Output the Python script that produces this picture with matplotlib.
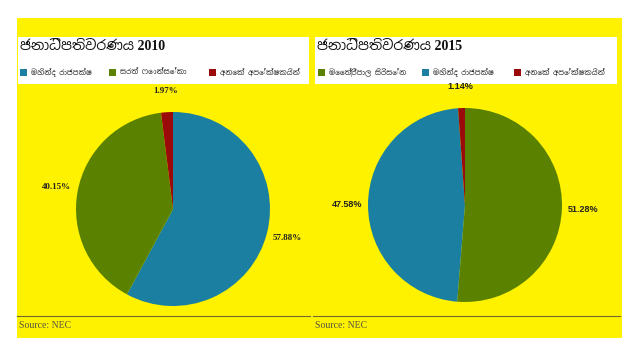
import matplotlib
matplotlib.use("Agg")
import matplotlib.pyplot as plt
from matplotlib import font_manager
from matplotlib.patches import Rectangle

# Data
titles = ["ජනාධිපතිවරණය 2010", "ජනාධිපතිවරණය 2015"]
labels_2010 = ["මහින්ද රාජපක්ෂ", "සරත් ෆොන්සේකා", "අනෙක් අපේක්ෂකයින්"]
values_2010 = [57.88, 40.15, 1.97]
labels_2015 = ["මෛත්‍රීපාල සිරිසේන", "මහින්ද රාජපක්ෂ", "අනෙක් අපේක්ෂකයින්"]
values_2015 = [51.28, 47.58, 1.14]
source_text = "Source: NEC"

BLUE = "#1a7fa0"
GREEN = "#5a8200"
RED = "#9a0a0a"
YELLOW = "#fff200"
colors_2010 = [BLUE, GREEN, RED]
colors_2015 = [GREEN, BLUE, RED]

# look for a font that can draw Sinhala, Latin fonts first so digits stay Latin
sinhala = [f.name for f in font_manager.fontManager.ttflist if "sinhala" in f.name.lower()]
serif_fam = ["Liberation Serif"] + sinhala[:1] + ["DejaVu Serif"]
sans_fam = sinhala[:1] + ["Liberation Sans", "DejaVu Sans"]

fig = plt.figure(figsize=(6.4, 3.6), dpi=100, facecolor="white")

# background axes in pixel coordinates (top-left origin)
bg = fig.add_axes([0, 0, 1, 1])
bg.set_xlim(0, 640)
bg.set_ylim(360, 0)
bg.axis("off")
bg.add_patch(Rectangle((17, 18), 605, 320, color=YELLOW, lw=0))

panels = [
    dict(x0=17, x1=310, hx=18, hw=291, cx=173, cy=209,
         lab_fam=["Liberation Serif", "DejaVu Serif"], labels=labels_2010,
         values=values_2010, colors=colors_2010, legx=[20, 109, 209], title=titles[0]),
    dict(x0=313, x1=620, hx=315, hw=302, cx=465, cy=205,
         lab_fam=["Liberation Sans", "DejaVu Sans"], labels=labels_2015,
         values=values_2015, colors=colors_2015, legx=[318, 422, 514], title=titles[1]),
]

R = 97  # pie radius in pixels
L = 1.5
W = 2 * L * R

for p in panels:
    # header box
    bg.add_patch(Rectangle((p["hx"], 37), p["hw"], 47, color="white", lw=0))
    bg.text(p["hx"] + 2, 47, p["title"], family=serif_fam, fontsize=10,
            fontweight="bold", color="#111111", va="center", ha="left")
    for lx, lab, col in zip(p["legx"], p["labels"], p["colors"]):
        bg.add_patch(Rectangle((lx, 69), 7, 7, color=col, lw=0))
        t = bg.text(lx + 11, 72.5, lab, family=sans_fam, fontsize=5.3,
                    color="#333333", va="center", ha="left")
        t.set_clip_path(Rectangle((p["hx"], 37), p["hw"], 47, transform=bg.transData))
    # source line
    bg.plot([p["x0"], p["x1"]], [316, 316], color="#6e6a30", lw=0.8)
    bg.text(p["x0"] + 2, 325, source_text, family=["Liberation Serif", "DejaVu Serif"],
            fontsize=7, color="#555544", va="center", ha="left")

    # pie
    ax = fig.add_axes([(p["cx"] - W / 2) / 640, (360 - p["cy"] - W / 2) / 360,
                       W / 640, W / 360])
    ax.pie(p["values"], colors=p["colors"], startangle=90, counterclock=False,
           autopct="%.2f%%", pctdistance=1.22,
           textprops=dict(family=p["lab_fam"], fontsize=6.5, fontweight="bold",
                          color="#222222"),
           wedgeprops=dict(linewidth=0))
    ax.set_xlim(-L, L)
    ax.set_ylim(-L, L)
    ax.set_aspect("equal")
    ax.axis("off")

fig.savefig("out.png", dpi=100, facecolor="white")
